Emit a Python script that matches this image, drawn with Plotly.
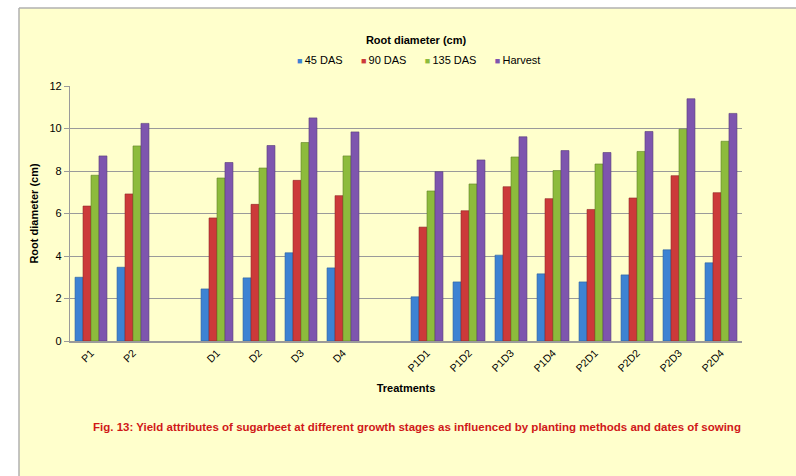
import plotly.graph_objects as go

categories = ["P1", "P2", " ", "D1", "D2", "D3", "D4", "  ",
              "P1D1", "P1D2", "P1D3", "P1D4", "P2D1", "P2D2", "P2D3", "P2D4"]
das45 = [3.00, 3.47, None, 2.45, 2.97, 4.15, 3.44, None,
         2.08, 2.78, 4.04, 3.16, 2.78, 3.11, 4.29, 3.68]
das90 = [6.35, 6.92, None, 5.79, 6.43, 7.56, 6.84, None,
         5.36, 6.13, 7.26, 6.70, 6.19, 6.73, 7.78, 6.98]
das135 = [7.80, 9.18, None, 7.67, 8.14, 9.34, 8.71, None,
          7.06, 7.39, 8.66, 8.02, 8.33, 8.92, 9.97, 9.40]
harvest = [8.71, 10.24, None, 8.40, 9.20, 10.50, 9.84, None,
           7.97, 8.52, 9.61, 8.96, 8.87, 9.86, 11.40, 10.71]
series_names = ["45 DAS", "90 DAS", "135 DAS", "Harvest"]
series_colors = ["#3D83D3", "#CC3A3A", "#8DBB3C", "#7E55AE"]
series_lines = ["#2A5E9E", "#8E2626", "#5F8226", "#553A78"]

fig = go.Figure()
for name, vals, col, lc in zip(series_names, [das45, das90, das135, harvest],
                               series_colors, series_lines):
    fig.add_trace(go.Bar(x=categories, y=vals, name=name, showlegend=False,
                         marker=dict(color=col, line=dict(color=lc, width=0.6))))

L, R, T, B = 70, 54, 86, 135
W, H = 796, 476
pw, ph = W - L - R, H - T - B

def px(x):
    return (x - L) / pw

def py(y):
    return (H - B - y) / ph

legend_text = "&nbsp;&nbsp;&nbsp;&nbsp;&nbsp;&nbsp;".join(
    f'<span style="font-size:9px;color:{c}">■</span>&#8201;{n}'
    for n, c in zip(series_names, series_colors))

bg = "#FFFFCC"
fig.update_layout(
    width=W, height=H,
    margin=dict(l=L, r=R, t=T, b=B),
    paper_bgcolor=bg, plot_bgcolor=bg,
    barmode="group", bargap=0.24, bargroupgap=0,
    font=dict(family="Liberation Sans, Arial, sans-serif", size=10, color="#000000"),
    showlegend=False,
    title=dict(text="<b>Root diameter (cm)</b>", x=416 / W, xanchor="center",
               y=1 - 40 / H, yanchor="middle", font=dict(size=11)),
    xaxis=dict(type="category", categoryorder="array", categoryarray=categories,
               tickangle=-45, showgrid=False, showline=True, linecolor="#9A9A9A",
               linewidth=1.5, ticks="", tickfont=dict(size=10.5),
               title=dict(text="<b>Treatments</b>", font=dict(size=11), standoff=12)),
    yaxis=dict(range=[0, 12], dtick=2, showgrid=True, gridcolor="#9A9A9A", gridwidth=1.3,
               showline=True, linecolor="#9A9A9A", linewidth=1.3, ticks="outside",
               ticklen=5, tickcolor="#9A9A9A", tickfont=dict(size=11), zeroline=False,
               title=dict(text="<b>Root diameter (cm)</b>", font=dict(size=11), standoff=8)),
    shapes=[
        dict(type="rect", xref="paper", yref="paper", x0=px(0), x1=px(19), y0=py(476), y1=py(0),
             fillcolor="white", line=dict(width=0), layer="below"),
        dict(type="rect", xref="paper", yref="paper", x0=px(0), x1=px(796), y0=py(8), y1=py(0),
             fillcolor="white", line=dict(width=0), layer="below"),
        dict(type="line", xref="paper", yref="paper", x0=px(19), x1=px(19), y0=py(476), y1=py(8),
             line=dict(color="#B0B0B0", width=1.5)),
        dict(type="line", xref="paper", yref="paper", x0=px(19), x1=px(796), y0=py(8), y1=py(8),
             line=dict(color="#B0B0B0", width=1.5)),
    ],
    annotations=[
        dict(text=legend_text, xref="paper", yref="paper", x=px(418), y=py(60),
             xanchor="center", yanchor="middle", showarrow=False, font=dict(size=11)),
        dict(text="<b>Fig. 13: Yield attributes of sugarbeet at different growth stages as influenced by planting methods and dates of sowing</b>",
             xref="paper", yref="paper", x=px(417), y=py(427), xanchor="center", yanchor="middle",
             showarrow=False, font=dict(size=11.5, color="#D01818")),
    ],
)

fig.write_html("out.html")
